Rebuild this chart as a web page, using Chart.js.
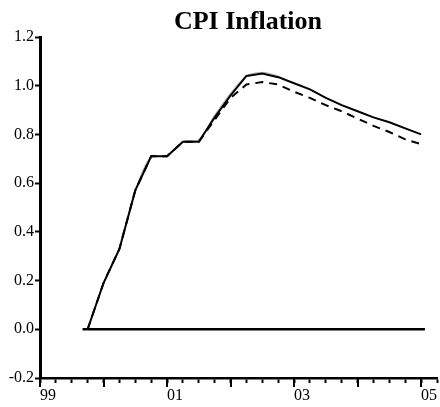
<!DOCTYPE html>
<html>
<head>
<meta charset="utf-8">
<script src="https://cdn.jsdelivr.net/npm/chart.js@4/dist/chart.umd.min.js"></script>
<style>
  html, body { margin: 0; padding: 0; background: #fff; }
  canvas { display: block; }
</style>
</head>
<body>
<canvas id="cpiChart" width="440" height="407"></canvas>
<script>
const quarters = [1999.75, 2000.0, 2000.25, 2000.5, 2000.75, 2001.0, 2001.25, 2001.5,
  2001.75, 2002.0, 2002.25, 2002.5, 2002.75, 2003.0, 2003.25, 2003.5, 2003.75,
  2004.0, 2004.25, 2004.5, 2004.75, 2005.0];

// main path (thick solid)
const cpiBase = [0.00, 0.19, 0.33, 0.57, 0.71, 0.71, 0.77, 0.77,
  0.87, 0.96, 1.04, 1.05, 1.035, 1.01, 0.985, 0.95, 0.92,
  0.895, 0.87, 0.85, 0.825, 0.80];

// alternative path (dashed)
const cpiAlt = [0.00, 0.19, 0.33, 0.57, 0.71, 0.71, 0.77, 0.77,
  0.86, 0.95, 1.005, 1.015, 1.005, 0.975, 0.95, 0.92, 0.895,
  0.865, 0.835, 0.81, 0.78, 0.76];

// smoothed path (thin grey)
const cpiSmooth = [0.00, 0.19, 0.33, 0.57, 0.71, 0.71, 0.77, 0.78,
  0.88, 0.97, 1.04, 1.055, 1.04, 1.01, 0.985, 0.95, 0.92,
  0.895, 0.87, 0.85, 0.825, 0.80];

const zeroYears = [1999.67, 2005.06];
const zeroValues = [0, 0];

const labeledYears = [1999, 2001, 2003, 2005];
const majorYears = [1999, 2000, 2001, 2002, 2003, 2004, 2005];

const serif = "'Liberation Serif', 'Times New Roman', serif";

const toPoints = (xs, ys) => xs.map((x, i) => ({ x: x, y: ys[i] }));

// title drawn straight onto the canvas, a bit right of centre
const titlePlugin = {
  id: 'cpiTitle',
  afterDraw(chart) {
    const ctx = chart.ctx;
    ctx.save();
    ctx.font = "bold 26px " + serif;
    ctx.fillStyle = '#000';
    ctx.textAlign = 'center';
    ctx.textBaseline = 'alphabetic';
    ctx.fillText('CPI Inflation', 248, 29);
    ctx.restore();
  }
};

// longer tick marks at whole years
const majorTicks = {
  id: 'majorTicks',
  afterDraw(chart) {
    const xs = chart.scales.x;
    const bottom = chart.chartArea.bottom;
    const ctx = chart.ctx;
    ctx.save();
    ctx.strokeStyle = '#000';
    ctx.lineWidth = 2;
    majorYears.forEach(yr => {
      const px = Math.round(xs.getPixelForValue(yr));
      ctx.beginPath();
      ctx.moveTo(px, bottom);
      ctx.lineTo(px, bottom + 9);
      ctx.stroke();
    });
    ctx.restore();
  }
};

const ctx = document.getElementById('cpiChart').getContext('2d');
const myChart = new Chart(ctx, {
  type: 'line',
  data: {
    datasets: [
      {
        data: toPoints(zeroYears, zeroValues),
        borderColor: '#000',
        borderWidth: 2.5,
        pointRadius: 0,
        order: 4
      },
      {
        data: toPoints(quarters, cpiSmooth),
        borderColor: '#b0b0b0',
        borderWidth: 1,
        pointRadius: 0,
        tension: 0.3,
        order: 3
      },
      {
        data: toPoints(quarters, cpiAlt),
        borderColor: '#000',
        borderWidth: 2,
        borderDash: [8, 6],
        pointRadius: 0,
        order: 2
      },
      {
        data: toPoints(quarters, cpiBase),
        borderColor: '#000',
        borderWidth: 2,
        pointRadius: 0,
        order: 1
      }
    ]
  },
  options: {
    responsive: false,
    animation: false,
    devicePixelRatio: 1,
    layout: { padding: { top: 37, right: 0, left: 0, bottom: 0 } },
    plugins: {
      legend: { display: false },
      title: { display: false },
      tooltip: { enabled: false }
    },
    scales: {
      x: {
        type: 'linear',
        min: 1999,
        max: 2005.25,
        afterFit: scale => { scale.height = 29; },
        border: { display: true, color: '#000', width: 2.5 },
        grid: {
          drawOnChartArea: false,
          drawTicks: true,
          tickLength: 5,
          tickWidth: 2,
          tickColor: '#000'
        },
        ticks: {
          stepSize: 0.25,
          autoSkip: false,
          maxRotation: 0,
          align: 'start',
          padding: 3,
          color: '#000',
          font: { family: serif, size: 16 },
          callback: v => {
            const yr = Math.round(v);
            if (Math.abs(v - yr) > 1e-6 || !labeledYears.includes(yr)) return '';
            return String(yr % 100).padStart(2, '0');
          }
        }
      },
      y: {
        min: -0.2,
        max: 1.2,
        afterFit: scale => { scale.width = 40; },
        border: { display: true, color: '#000', width: 3 },
        grid: {
          drawOnChartArea: false,
          drawTicks: true,
          tickLength: 5,
          tickWidth: 2,
          tickColor: '#000'
        },
        ticks: {
          stepSize: 0.2,
          padding: 1,
          color: '#000',
          font: { family: serif, size: 16 },
          // avoid "-0.0" from floating point noise
          callback: v => (Math.abs(v) < 1e-9 ? 0 : v).toFixed(1)
        }
      }
    }
  },
  plugins: [titlePlugin, majorTicks]
});
</script>
</body>
</html>
